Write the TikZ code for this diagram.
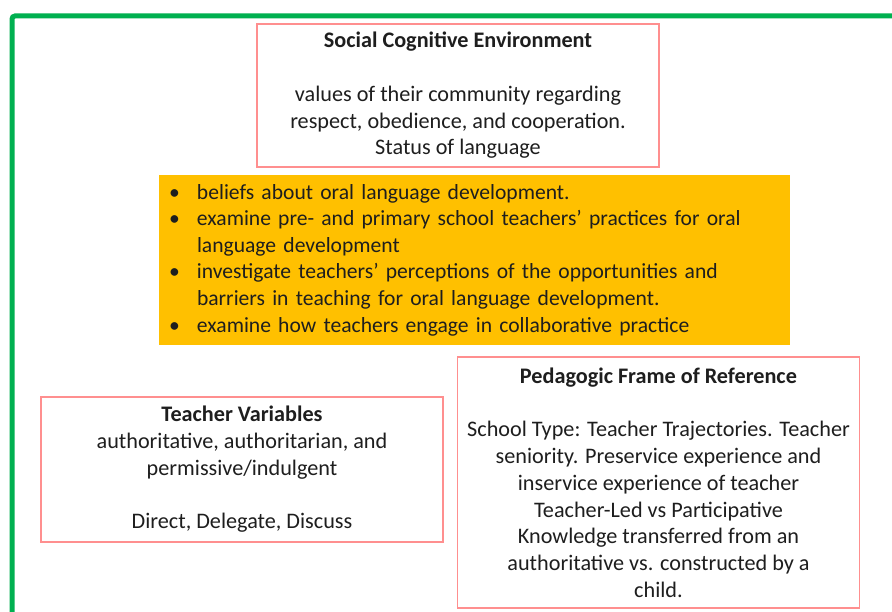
\documentclass[tikz,border=0pt]{standalone}
\usepackage{fontspec}
\setmainfont{Carlito}
\definecolor{framegreen}{HTML}{00B050}
\definecolor{boxpink}{HTML}{FF8F8F}
\definecolor{goalorange}{HTML}{FFC000}
\definecolor{txt}{HTML}{1E1E1E}
\begin{document}
\begin{tikzpicture}[x=1pt,y=-1pt,
  every node/.style={text=txt,font=\fontsize{22.2}{26.8}\selectfont},
  pinkbox/.style={draw=boxpink,line width=1.3pt,fill=white,align=center,inner sep=0pt,minimum width=402pt},
  goalbox/.style={fill=goalorange,draw=none,align=left,text width=611pt,inner xsep=10pt,inner ysep=0pt,minimum height=170pt,font=\fontsize{21.6}{26.6}\selectfont}
]
\useasboundingbox (0,0) rectangle (892,612);
\clip (0,0) rectangle (892,612);
\fill[white] (0,0) rectangle (892,612);
\draw[framegreen,line width=5pt,rounded corners=3pt] (12,16) rectangle (910,640);

\node[pinkbox,minimum height=143pt] (social) at (458,95.5)
  {\textbf{Social Cognitive Environment}\\ \\
   values of their community regarding\\
   respect, obedience, and cooperation.\\
   Status of language};

\node[goalbox] (goals) at (474.5,260)
  {\makebox[28pt][l]{\textbullet}beliefs about oral language development.\\
   \makebox[28pt][l]{\textbullet}examine pre- and primary school teachers’ practices for oral\\
   \hspace*{28pt}language development\\
   \makebox[28pt][l]{\textbullet}investigate teachers’ perceptions of the opportunities and\\
   \hspace*{28pt}barriers in teaching for oral language development.\\
   \makebox[28pt][l]{\textbullet}examine how teachers engage in collaborative practice};

\node[pinkbox,minimum height=145pt] (teacher) at (242,469.5)
  {\textbf{Teacher Variables}\\
   authoritative, authoritarian, and\\
   permissive/indulgent\\ \\
   Direct, Delegate, Discuss};

\node[pinkbox,minimum height=251pt] (pedagogic) at (658.5,482.5)
  {\textbf{Pedagogic Frame of Reference}\\ \\
   School Type: Teacher Trajectories. Teacher\\
   seniority. Preservice experience and\\
   inservice experience of teacher\\
   Teacher-Led vs Participative\\
   Knowledge transferred from an\\
   authoritative vs. constructed by a\\
   child.};
\end{tikzpicture}
\end{document}
